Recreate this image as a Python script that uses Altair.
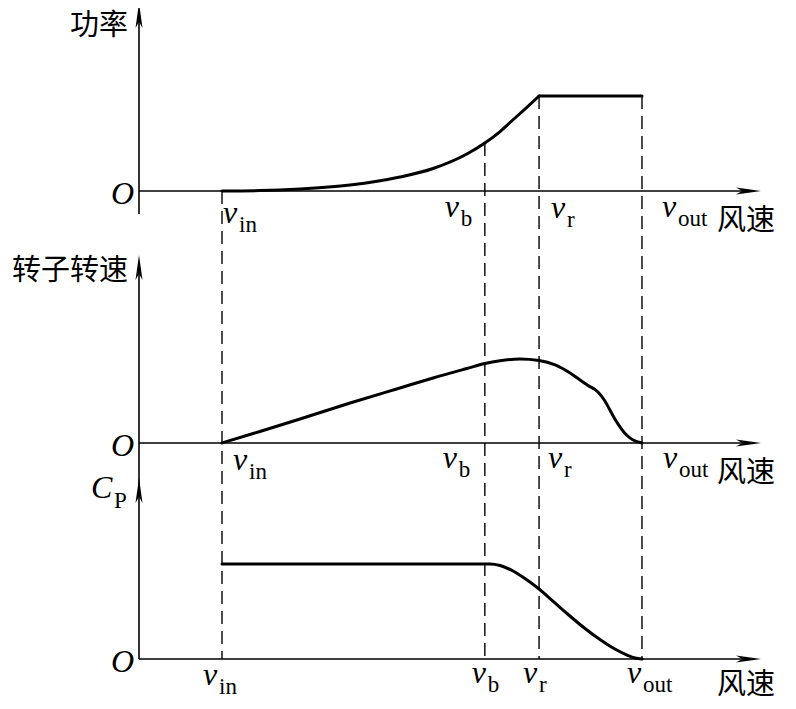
import altair as alt
import pandas as pd
import numpy as np

# ---------------- data (schematic units) ----------------
speed_names = ["in", "b", "r", "out"]
speed_values = [3.0, 12.5, 14.46, 18.18]

power_wind = [3.0, 4.37, 5.82, 7.63, 9.43, 10.63, 11.85, 12.5, 13.05, 13.41, 13.95, 14.46]
power_value = [0.0, 0.004, 0.021, 0.063, 0.147, 0.237, 0.389, 0.505, 0.626, 0.721, 0.863, 1.0]
rated_wind = [14.46, 18.18]
rated_value = [1.0, 1.0]

rotor_wind = [3.0, 4.37, 5.82, 7.63, 9.43, 10.63, 11.85, 12.5, 13.05, 13.77, 14.46, 15.04,
              15.58, 15.94, 16.23, 16.59, 16.84, 17.02, 17.2, 17.39, 17.64, 17.86, 18.18]
rotor_value = [0.0, 0.137, 0.286, 0.476, 0.655, 0.774, 0.887, 0.946, 0.979, 1.0, 0.982, 0.929,
               0.833, 0.75, 0.685, 0.607, 0.5, 0.393, 0.286, 0.19, 0.089, 0.036, 0.0]

cp_wind = [3.0, 12.69, 13.05, 13.52, 13.95, 14.46, 14.96, 15.47, 16.12, 16.66, 17.2, 17.64, 17.93, 18.18]
cp_value = [1.0, 1.0, 0.984, 0.926, 0.847, 0.737, 0.61, 0.479, 0.321, 0.205, 0.105, 0.042, 0.011, 0.0]

y_titles = ["功率", "转子转速"]
x_title = "风速"

# ---------------- layout ----------------
W, H = 780, 693
PX0 = 139.0          # page x of the vertical axes
K = 27.667           # px per wind unit
bases = [191, 443, 659]   # page y of the three horizontal axes
scales = [95, 84, 95]     # px per unit value in each panel
X_END = (752 - PX0) / K


def xd(px):
    return (px - PX0) / K


def yd(py):
    return py - 8


xs = alt.Scale(domain=[xd(8), xd(8 + W)], nice=False, zero=False)
ys = alt.Scale(domain=[0, H], reverse=True, nice=False, zero=False)
X = lambda f: alt.X(f, type="quantitative", scale=xs, axis=None)
Y = lambda f: alt.Y(f, type="quantitative", scale=ys, axis=None)

SERIF = "Liberation Serif"
CJK = "Noto Sans CJK SC"

layers = []

# ---------------- curves ----------------
curve_sets = [
    (pd.DataFrame({"wind": power_wind + rated_wind,
                   "value": power_value + rated_value,
                   "seg": ["rise"] * len(power_wind) + ["flat"] * len(rated_wind)}), 0),
    (pd.DataFrame({"wind": rotor_wind, "value": rotor_value, "seg": "rotor"}), 1),
    (pd.DataFrame({"wind": cp_wind, "value": cp_value, "seg": "cp"}), 2),
]
for df, i in curve_sets:
    layers.append(
        alt.Chart(df)
        .transform_calculate(yy=f"{yd(bases[i])} - datum.value * {scales[i]}")
        .mark_line(interpolate="monotone", strokeWidth=3, color="black", strokeCap="round",
                   strokeJoin="round")
        .encode(x=X("wind"), y=Y("yy"), detail="seg:N")
    )

# ---------------- dashed guide lines ----------------
p_at = np.interp(speed_values, power_wind + rated_wind[1:], power_value + rated_value[1:])
dash_df = pd.DataFrame({
    "wind": speed_values,
    "top": [yd(bases[0] - p * scales[0]) for p in p_at],
    "bot": [yd(bases[2])] * 4,
})
layers.append(
    alt.Chart(dash_df).mark_rule(strokeDash=[13, 7], strokeWidth=1.4, color="black")
    .encode(x=X("wind"), y=Y("top"), y2="bot")
)

# ---------------- axes ----------------
hax = pd.DataFrame({"x0": [0.0] * 3, "x1": [X_END] * 3, "y": [yd(b) for b in bases]})
layers.append(
    alt.Chart(hax).mark_rule(strokeWidth=1.6, color="black")
    .encode(x=X("x0"), x2="x1", y=Y("y"))
)
vax = pd.DataFrame({"x": [0.0, 0.0], "y0": [yd(12), yd(262)], "y1": [yd(214), yd(659)]})
layers.append(
    alt.Chart(vax).mark_rule(strokeWidth=1.6, color="black")
    .encode(x=X("x"), y=Y("y0"), y2="y1")
)
up_arrow = "M0,-1L0.28,1L0,0.5L-0.28,1Z"
right_arrow = "M1,0L-1,0.28L-0.5,0L-1,-0.28Z"
ua = pd.DataFrame({"x": [0.0] * 3, "y": [yd(3 + 12.5), yd(255 + 12.5), yd(478 + 12.5)]})
ra = pd.DataFrame({"x": [xd(761 - 12.5)] * 3, "y": [yd(b) for b in bases]})
layers.append(
    alt.Chart(ua).mark_point(shape=up_arrow, size=625, filled=True, color="black", opacity=1, strokeWidth=0)
    .encode(x=X("x"), y=Y("y"))
)
layers.append(
    alt.Chart(ra).mark_point(shape=right_arrow, size=625, filled=True, color="black", opacity=1, strokeWidth=0)
    .encode(x=X("x"), y=Y("y"))
)

# ---------------- text ----------------
# tick labels: (panel, speed index, dx of "v" from guide line, baseline below axis)
tick_pos = [
    (0, 0, 1, 32), (0, 1, -40, 26), (0, 2, 12, 27), (0, 3, 20, 26),
    (1, 0, 11, 27), (1, 1, -42, 25), (1, 2, 9, 25), (1, 3, 21, 25),
    (2, 0, -19, 26), (2, 1, -13, 24), (2, 2, -16, 24), (2, 3, -15, 24),
]
v_rows, sub_rows = [], []
for p, si, dx, dy in tick_pos:
    vx = PX0 + speed_values[si] * K + dx
    vy = bases[p] + dy
    v_rows.append({"x": xd(vx), "y": yd(vy), "t": "v"})
    sub_rows.append({"x": xd(vx + 16), "y": yd(vy + 9), "t": speed_names[si]})
o_df = pd.DataFrame({"x": [xd(134)] * 3, "y": [yd(b + 13) for b in bases], "t": ["O"] * 3})
v_rows.append({"x": xd(91), "y": yd(498), "t": "C"})
sub_rows.append({"x": xd(114), "y": yd(508), "t": "P"})

layers.append(
    alt.Chart(pd.DataFrame(v_rows)).mark_text(font=SERIF, fontStyle="italic", fontSize=32,
                                              align="left", baseline="alphabetic", color="black")
    .encode(x=X("x"), y=Y("y"), text="t:N")
)
layers.append(
    alt.Chart(o_df).mark_text(font=SERIF, fontStyle="italic", fontSize=32,
                              align="right", baseline="alphabetic", color="black")
    .encode(x=X("x"), y=Y("y"), text="t:N")
)
layers.append(
    alt.Chart(pd.DataFrame(sub_rows)).mark_text(font=SERIF, fontSize=23,
                                                align="left", baseline="alphabetic", color="black")
    .encode(x=X("x"), y=Y("y"), text="t:N")
)

cjk_right = pd.DataFrame({"x": [xd(128)] * 2, "y": [yd(35), yd(280)], "t": y_titles})
cjk_left = pd.DataFrame({"x": [xd(717)] * 3, "y": [yd(b + 39) for b in bases[:2]] + [yd(bases[2] + 35)],
                         "t": [x_title] * 3})
layers.append(
    alt.Chart(cjk_right).mark_text(font=CJK, fontSize=29, align="right", baseline="alphabetic", color="black")
    .encode(x=X("x"), y=Y("y"), text="t:N")
)
layers.append(
    alt.Chart(cjk_left).mark_text(font=CJK, fontSize=29, align="left", baseline="alphabetic", color="black")
    .encode(x=X("x"), y=Y("y"), text="t:N")
)

chart = (
    alt.layer(*layers)
    .properties(width=W, height=H, padding=0, autosize=alt.AutoSizeParams(type="none"), background="white")
    .configure_view(stroke=None)
)
chart.save("out.html", embed_options={"renderer": "svg", "actions": False})
